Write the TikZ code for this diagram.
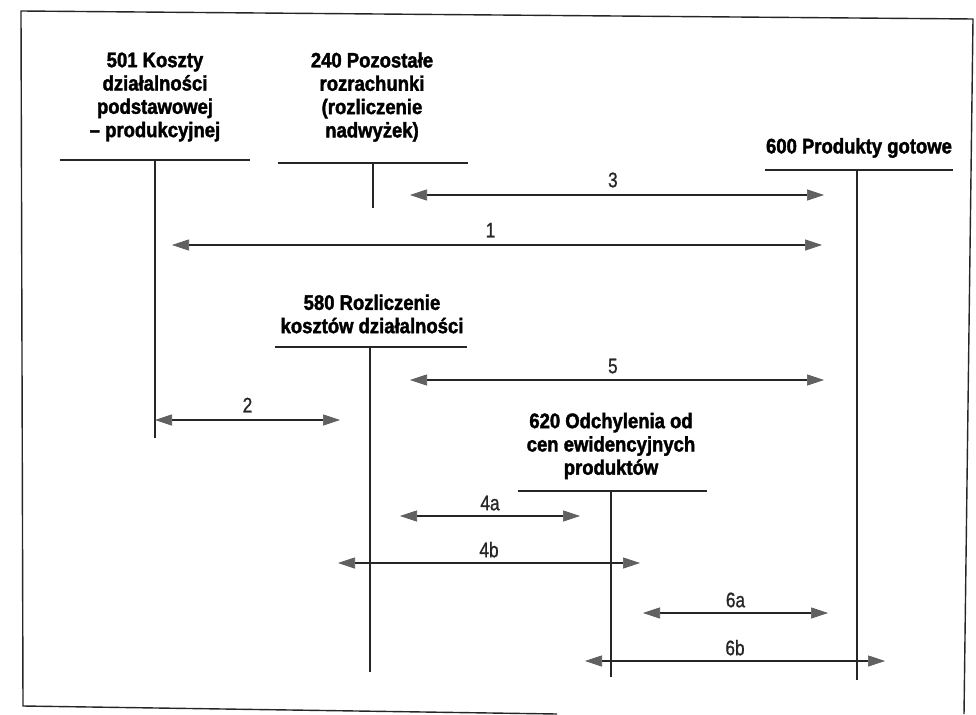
\documentclass[tikz,border=0pt]{standalone}
\usepackage{fontspec}
\usetikzlibrary{arrows.meta}
\newfontfamily\titlefont{Liberation Sans Bold}[FakeStretch=0.88,FakeBold=1.8]
\newfontfamily\numfont{Liberation Sans}[FakeStretch=0.82,FakeBold=1]
\definecolor{headgray}{gray}{0.38}
\tikzset{
  acctitle/.style={font=\titlefont\fontsize{21}{23.3}\selectfont, align=center, inner sep=0pt},
  tline/.style={line width=1.3pt, black!85},
  flow/.style={line width=1.2pt, black!85,
    {Triangle[length=17pt,width=11pt,fill=headgray,color=black!65,line width=0.6pt]}-{Triangle[length=17pt,width=11pt,fill=headgray,color=black!65,line width=0.6pt]}},
  num/.style={font=\numfont\fontsize{21}{21}\selectfont, inner sep=0pt},
  frame/.style={line width=1.4pt, black!85}
}
\begin{document}
\begin{tikzpicture}[x=1pt,y=-1pt]
\useasboundingbox (0,0) rectangle (976,714);
% frame (scanned, slightly rotated)
\coordinate (fbr) at (964,714);
\coordinate (ftr) at (973,19);
\coordinate (ftl) at (21,11);
\coordinate (fbl) at (23,706);
\coordinate (fbe) at (557,714);
\draw[frame] (fbr) -- (ftr) -- (ftl) -- (fbl) -- (fbe);

% 501
\node[acctitle] (t501) at (155,97) {501 Koszty\\działalności\\podstawowej\\– produkcyjnej};
\coordinate (h501a) at (60,160); \coordinate (h501b) at (250,160);
\coordinate (v501a) at (155,160); \coordinate (v501b) at (155,438);
\draw[tline] (h501a) -- (h501b); \draw[tline] (v501a) -- (v501b);

% 240
\node[acctitle] (t240) at (372,97) {240 Pozostałe\\rozrachunki\\(rozliczenie\\nadwyżek)};
\coordinate (h240a) at (278,163); \coordinate (h240b) at (468,163);
\coordinate (v240a) at (373,163); \coordinate (v240b) at (373,208);
\draw[tline] (h240a) -- (h240b); \draw[tline] (v240a) -- (v240b);

% 600
\node[acctitle] (t600) at (859,148) {600 Produkty gotowe};
\coordinate (h600a) at (765,170); \coordinate (h600b) at (953,170);
\coordinate (v600a) at (857,170); \coordinate (v600b) at (857,680);
\draw[tline] (h600a) -- (h600b); \draw[tline] (v600a) -- (v600b);

% 580
\node[acctitle] (t580) at (372,314) {580 Rozliczenie\\kosztów działalności};
\coordinate (h580a) at (275,347); \coordinate (h580b) at (467,347);
\coordinate (v580a) at (370,347); \coordinate (v580b) at (370,672);
\draw[tline] (h580a) -- (h580b); \draw[tline] (v580a) -- (v580b);

% 620
\node[acctitle] (t620) at (611,446) {620 Odchylenia od\\cen ewidencyjnych\\produktów};
\coordinate (h620a) at (518,491); \coordinate (h620b) at (707,491);
\coordinate (v620a) at (611,491); \coordinate (v620b) at (611,677);
\draw[tline] (h620a) -- (h620b); \draw[tline] (v620a) -- (v620b);

% flows
\coordinate (a3l) at (410,195); \coordinate (a3r) at (824,195);
\draw[flow] (a3l) -- node[num, above=7pt, pos=0.49] (n3) {3} (a3r);
\coordinate (a1l) at (172,245); \coordinate (a1r) at (822,245);
\draw[flow] (a1l) -- node[num, above=7pt, pos=0.49] (n1) {1} (a1r);
\coordinate (a5l) at (410,380); \coordinate (a5r) at (824,380);
\draw[flow] (a5l) -- node[num, above=6pt, pos=0.49] (n5) {5} (a5r);
\coordinate (a2l) at (155,420); \coordinate (a2r) at (340,420);
\draw[flow] (a2l) -- node[num, above=7pt] (n2) {2} (a2r);
\coordinate (a4al) at (400,516); \coordinate (a4ar) at (580,516);
\draw[flow] (a4al) -- node[num, above=5pt] (n4a) {4a} (a4ar);
\coordinate (a4bl) at (338,563); \coordinate (a4br) at (640,563);
\draw[flow] (a4bl) -- node[num, above=5pt, pos=0.5] (n4b) {4b} (a4br);
\coordinate (a6al) at (643,613); \coordinate (a6ar) at (828,613);
\draw[flow] (a6al) -- node[num, above=5pt] (n6a) {6a} (a6ar);
\coordinate (a6bl) at (585,661); \coordinate (a6br) at (885,661);
\draw[flow] (a6bl) -- node[num, above=5pt, pos=0.5] (n6b) {6b} (a6br);
\end{tikzpicture}
\end{document}
